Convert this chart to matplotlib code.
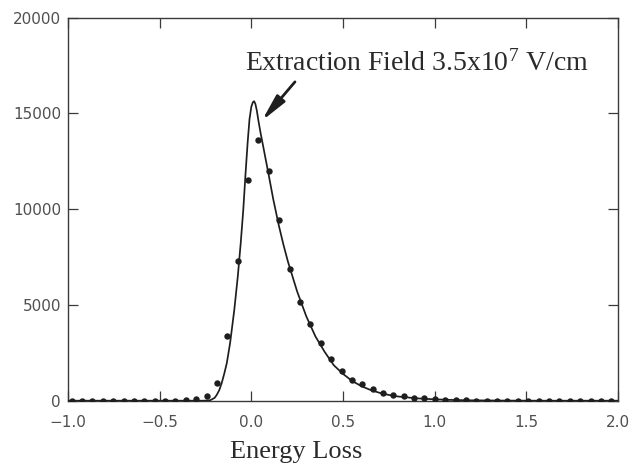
import matplotlib
matplotlib.use("Agg")
import matplotlib.pyplot as plt

# measured data points (dots)
dot_x = [-0.980, -0.923, -0.867, -0.810, -0.754, -0.697, -0.640, -0.584, -0.527,
         -0.471, -0.414, -0.357, -0.301, -0.244, -0.188, -0.131, -0.074, -0.018,
         0.039, 0.095, 0.152, 0.209, 0.265, 0.322, 0.378, 0.435, 0.492, 0.548,
         0.605, 0.661, 0.718, 0.775, 0.831, 0.888, 0.944, 1.001, 1.058, 1.114,
         1.171, 1.227, 1.284, 1.341, 1.397, 1.454, 1.510, 1.567, 1.624, 1.680,
         1.737, 1.793, 1.850, 1.907, 1.963]
dot_y = [0, 0, 0, 0, 0, 0, 0, 0, 0,
         0, 0, 20, 100, 230, 940, 3400, 7300, 11550,
         13620, 12000, 9450, 6860, 5170, 3980, 3011, 2176, 1550, 1080,
         872, 610, 418, 313, 245, 157, 125, 73, 50, 30,
         20, 10, 0, 0, 0, 0, 0, 0, 0, 0,
         0, 0, 0, 0, 0]

# fitted curve
fit_x = [-1.0, -0.26, -0.225, -0.2, -0.189, -0.175, -0.162, -0.148, -0.134,
         -0.116, -0.093, -0.074, -0.058, -0.044, -0.032, -0.02, -0.01, 0.0,
         0.008, 0.015, 0.022, 0.03, 0.038, 0.05, 0.065, 0.093, 0.12, 0.15,
         0.175, 0.2, 0.25, 0.3, 0.35, 0.4, 0.45, 0.5, 0.55, 0.6,
         0.65, 0.7, 0.75, 0.8, 0.9, 1.0, 1.1, 1.2, 1.4, 1.6, 2.0]
fit_y = [0, 0, 20, 150, 298, 550, 909, 1400, 1953,
         2997, 4736, 6475, 8219, 9958, 11800, 13500, 14700, 15350,
         15580, 15640, 15500, 15150, 14658, 14000, 13264, 11875, 10500, 9150,
         8150, 7250, 5700, 4400, 3350, 2550, 1850, 1400, 1030, 760,
         560, 410, 300, 220, 125, 70, 38, 20, 5, 0, 0]

xticks = [-1.0, -0.5, 0.0, 0.5, 1.0, 1.5, 2.0]
xtick_labels = ["\u22121.0", "\u22120.5", "0.0", "0.5", "1.0", "1.5", "2.0"]
yticks = [0, 5000, 10000, 15000, 20000]
ytick_labels = ["0", "5000", "10000", "15000", "20000"]

plt.rcParams['mathtext.fontset'] = 'custom'
plt.rcParams['mathtext.rm'] = 'Liberation Serif'
plt.rcParams['mathtext.it'] = 'Liberation Serif:italic'

fig = plt.figure(figsize=(6.29, 4.63), dpi=100)
ax = fig.add_axes([68/629, 1 - 400.7/463, 550/629, 383/463])

ink = '#1e1e1e'
ax.plot(fit_x, fit_y, color=ink, lw=1.25, zorder=3, solid_joinstyle='round')
ax.plot(dot_x, dot_y, 'o', color=ink, markersize=4.6, markeredgewidth=0, zorder=4)

ax.set_xlim(-1.0, 2.0)
ax.set_ylim(0, 20000)
ax.set_xticks(xticks)
ax.set_xticklabels(xtick_labels)
ax.set_yticks(yticks)
ax.set_yticklabels(ytick_labels)

for s in ax.spines.values():
    s.set_color('#3a3a3a')
    s.set_linewidth(1.0)

ax.tick_params(axis='both', direction='in', length=7, width=0.9, color='#3a3a3a',
               top=True, right=True, labelsize=11, labelcolor='#505050')
ax.tick_params(axis='x', pad=10)
ax.tick_params(axis='y', pad=5)

ax.set_xlabel("Energy Loss", fontfamily='Liberation Serif', fontsize=19, color='#2a2a2a')
ax.xaxis.set_label_coords((296 - 68) / 550, -0.105)

ax.text(-0.0345, 17216, "Extraction Field 3.5x10$^{7}$ V/cm",
        fontfamily='Liberation Serif', fontsize=20, color='#2a2a2a',
        ha='left', va='baseline')

ax.annotate("", xy=(0.057, 14614), xytext=(0.238, 16650),
            arrowprops=dict(arrowstyle='-|>,head_length=1.0,head_width=0.2',
                            lw=2.0, color=ink,
                            mutation_scale=16, shrinkA=0, shrinkB=0))

fig.savefig("out.png", dpi=100)
